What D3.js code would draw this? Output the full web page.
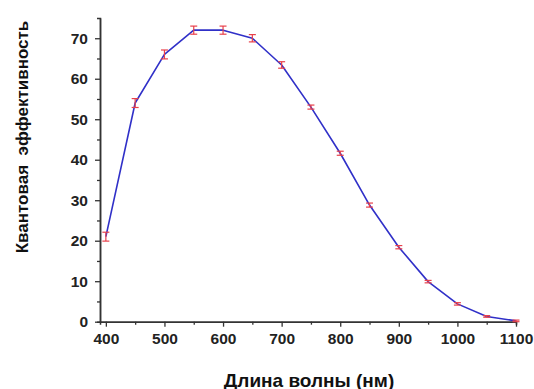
<!DOCTYPE html>
<html><head><meta charset="utf-8">
<script src="https://d3js.org/d3.v7.min.js"></script>
<style>body{margin:0;background:#fff}svg{display:block}</style>
</head><body>
<script>
const wavelengths = [400,450,500,550,600,650,700,750,800,850,900,950,1000,1050,1100];
const efficiency  = [21,54,66,72,72,70,63.4,53,41.6,28.8,18.4,9.9,4.4,1.3,0.2];
const errors      = [1.1,1.1,1.1,1,1,0.9,0.8,0.5,0.5,0.5,0.4,0.3,0.3,0.2,0.2];
const xTicks = [400,500,600,700,800,900,1000,1100];
const yTicks = [0,10,20,30,40,50,60,70];
const xTitle = "Длина волны (нм)";
const yTitle = "Квантовая\u00A0 эффективность";

const W=534,H=389;
const svg=d3.select("body").append("svg").attr("width",W).attr("height",H);
const x=d3.scaleLinear().domain([390,1100]).range([100,516]);
const y=d3.scaleLinear().domain([0,75]).range([321.7,18]);
const axisColor="#333";
const font="Arial, 'Liberation Sans', sans-serif";

// minor ticks
const gx=svg.append("g").attr("transform","translate(0,321.7)");
gx.call(d3.axisBottom(x).tickValues(d3.range(450,1100,100)).tickSize(3).tickFormat(""));
const gy=svg.append("g").attr("transform","translate(100,0)");
gy.call(d3.axisLeft(y).tickValues(d3.range(5,75,10)).tickSize(3).tickFormat(""));

// major ticks
const gx2=svg.append("g").attr("transform","translate(0,321.7)");
gx2.call(d3.axisBottom(x).tickValues(xTicks).tickSize(5).tickPadding(6).tickSizeOuter(0).tickFormat(d3.format("d")));
gx2.selectAll("text").attr("font-family",font).attr("font-weight","bold").attr("font-size",15.5).attr("fill","#222");
const gy2=svg.append("g").attr("transform","translate(100,0)");
gy2.call(d3.axisLeft(y).tickValues(yTicks).tickSize(5).tickPadding(7).tickSizeOuter(0).tickFormat(d3.format("d")));
gy2.selectAll("text").attr("font-family",font).attr("font-weight","bold").attr("font-size",15.5).attr("fill","#222");
svg.selectAll(".domain").attr("stroke",axisColor).attr("stroke-width",1.5);
svg.selectAll(".tick line").attr("stroke",axisColor).attr("stroke-width",1.3);

// line
const pts=wavelengths.map((w,i)=>({w,v:efficiency[i],e:errors[i]}));
svg.append("path").datum(pts)
  .attr("d",d3.line().x(d=>x(d.w)).y(d=>y(d.v)))
  .attr("fill","none").attr("stroke","#3030c8").attr("stroke-width",1.6).attr("stroke-linejoin","round");

// error bars
const eb=svg.append("g").attr("stroke","#e8404a").attr("stroke-width",1.2);
pts.forEach(d=>{
  const cx=x(d.w),y1=y(d.v+d.e),y2=y(d.v-d.e);
  eb.append("line").attr("x1",cx).attr("x2",cx).attr("y1",y1).attr("y2",y2);
  eb.append("line").attr("x1",cx-3.5).attr("x2",cx+3.5).attr("y1",y1).attr("y2",y1);
  eb.append("line").attr("x1",cx-3.5).attr("x2",cx+3.5).attr("y1",y2).attr("y2",y2);
});

// titles
svg.append("text").attr("x",309).attr("y",386.5).attr("text-anchor","middle")
  .attr("font-family",font).attr("font-weight","bold").attr("font-size",19).attr("fill","#111").text(xTitle);
svg.append("text").attr("transform","translate(27.5,137) rotate(-90)").attr("text-anchor","middle")
  .attr("font-family",font).attr("font-weight","bold").attr("font-size",17).attr("fill","#111").text(yTitle);
</script>
</body></html>
